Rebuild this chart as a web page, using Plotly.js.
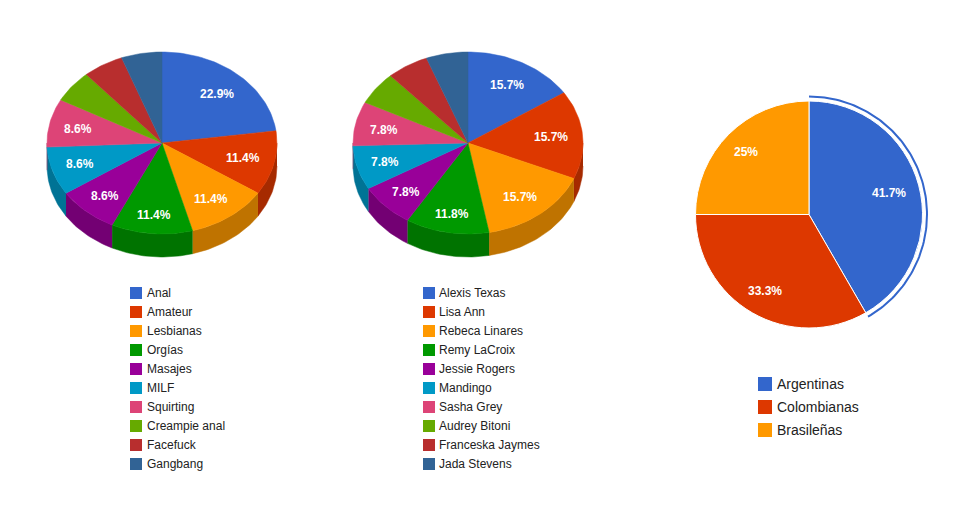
<!DOCTYPE html>
<html>
<head>
<meta charset="utf-8">
<script src="https://cdn.plot.ly/plotly-3.0.1.min.js"></script>
<style>html,body{margin:0;padding:0;background:#fff}#chart{width:980px;height:520px}</style>
</head>
<body>
<div id="chart"></div>
<script>
// Data
var categoriesA = ["Anal","Amateur","Lesbianas","Orgías","Masajes","MILF","Squirting","Creampie anal","Facefuck","Gangbang"];
var valuesA = [8,4,4,4,3,3,3,2,2,2];
var categoriesB = ["Alexis Texas","Lisa Ann","Rebeca Linares","Remy LaCroix","Jessie Rogers","Mandingo","Sasha Grey","Audrey Bitoni","Franceska Jaymes","Jada Stevens"];
var valuesB = [8,8,8,6,4,4,4,3,3,3];
var categoriesC = ["Argentinas","Colombianas","Brasileñas"];
var valuesC = [5,4,3];
var topColors = ["#3366cc","#dd3800","#ff9900","#009900","#990099","#0099c6","#dd4477","#66aa00","#b82e2e","#316395"];
var sideColors = ["#264d99","#a62a00","#bf7300","#007300","#730073","#007395","#a63359","#4d8000","#8a2323","#254a70"];

var traces = [], annotations = [];
var RAD = Math.PI / 180;

function pctText(v, total) {
  return (Math.round(v / total * 1000) / 10) + "%";
}
function pt(cx, cy, rx, ry, deg) {
  return [cx + rx * Math.sin(deg * RAD), cy - ry * Math.cos(deg * RAD)];
}
function arc(cx, cy, rx, ry, a, b) {
  var out = [], n = Math.max(2, Math.ceil(Math.abs(b - a) / 1.5));
  for (var i = 0; i <= n; i++) out.push(pt(cx, cy, rx, ry, a + (b - a) * i / n));
  return out;
}
function poly(points, color) {
  traces.push({
    type: "scatter", mode: "lines", fill: "toself", fillcolor: color,
    x: points.map(function (p) { return p[0]; }),
    y: points.map(function (p) { return p[1]; }),
    line: { color: color, width: 0.5 },
    hoverinfo: "skip", showlegend: false
  });
}
function label(x, y, text) {
  annotations.push({
    x: x, y: y, xref: "x", yref: "y", text: text, showarrow: false,
    xanchor: "center", yanchor: "middle",
    font: { family: "Liberation Sans, Arial, sans-serif", size: 12, color: "#ffffff", weight: 700 }
  });
}
function pie3d(values, cx, cy, rx, ry, depth) {
  var total = values.reduce(function (a, b) { return a + b; }, 0), start = 0, spans = [];
  values.forEach(function (v) { spans.push([start, start + v / total * 360]); start += v / total * 360; });
  // front wall, only the part of the rim between 90 and 270 degrees shows
  spans.forEach(function (s, i) {
    var a = Math.max(s[0], 90), b = Math.min(s[1], 270);
    if (b <= a) return;
    var upper = arc(cx, cy, rx, ry, a, b);
    var lower = arc(cx, cy + depth, rx, ry, b, a);
    poly(upper.concat(lower), sideColors[i]);
  });
  spans.forEach(function (s, i) {
    poly([[cx, cy]].concat(arc(cx, cy, rx, ry, s[0], s[1])).concat([[cx, cy]]), topColors[i]);
  });
  spans.forEach(function (s, i) {
    if (values[i] / total < 0.07) return;
    var mid = (s[0] + s[1]) / 2;
    var fx = Math.sin(mid * RAD) < 0 ? 0.747 : 0.725;
    var c = -Math.cos(mid * RAD);
    var p = [cx + rx * fx * Math.sin(mid * RAD),
             cy + ry * 0.72 * c + 6 * Math.pow(Math.max(0, c), 3) + (Math.sin(mid * RAD) < 0 ? 1 : 0)];
    label(p[0], p[1], pctText(values[i], total));
  });
}
function legendList(names, x, textX, y0, step, size, fontSize) {
  traces.push({
    type: "scatter", mode: "markers",
    x: names.map(function () { return x; }),
    y: names.map(function (n, i) { return y0 + i * step; }),
    marker: { symbol: "square", size: size, color: topColors.slice(0, names.length), line: { width: 0 } },
    hoverinfo: "skip", showlegend: false, cliponaxis: false
  });
  traces.push({
    type: "scatter", mode: "text",
    x: names.map(function () { return textX; }),
    y: names.map(function (n, i) { return y0 + i * step + 1; }),
    text: names, textposition: "middle right",
    textfont: { family: "Liberation Sans, Arial, sans-serif", size: fontSize, color: "#222222" },
    hoverinfo: "skip", showlegend: false, cliponaxis: false
  });
}

pie3d(valuesA, 162, 143, 115, 91, 23);
pie3d(valuesB, 468, 143, 115, 91, 23);
legendList(categoriesA, 136, 147, 293, 19, 12, 12);
legendList(categoriesB, 429, 439, 293, 19, 12, 12);
legendList(categoriesC, 765, 777, 384, 23, 14, 14);

// flat pie with its selection ring
var cx3 = 809, cy3 = 214.5, r3 = 113.5, total3 = valuesC.reduce(function (a, b) { return a + b; }, 0);
var ring = arc(cx3, cy3, 118, 118, 0, valuesC[0] / total3 * 360);
traces.push({
  type: "scatter", mode: "lines", x: ring.map(function (p) { return p[0]; }), y: ring.map(function (p) { return p[1]; }),
  line: { color: "#3366cc", width: 2 }, hoverinfo: "skip", showlegend: false
});
traces.push({
  type: "pie", labels: categoriesC, values: valuesC, sort: false, direction: "clockwise", rotation: 0,
  marker: { colors: topColors.slice(0, 3), line: { color: "#ffffff", width: 1 } },
  textinfo: "none", hoverinfo: "skip", showlegend: false,
  domain: { x: [(cx3 - r3) / 980, (cx3 + r3) / 980], y: [1 - (cy3 + r3) / 520, 1 - (cy3 - r3) / 520] }
});
var acc = 0;
valuesC.forEach(function (v) {
  var mid = (acc + v / 2) / total3 * 360;
  var f = Math.sin(mid * RAD) < 0 ? 0.78 : 0.73;
  var p = pt(cx3, cy3, r3 * f, r3 * f, mid);
  label(p[0], p[1], pctText(v, total3));
  acc += v;
});

var layout = {
  width: 980, height: 520, margin: { l: 0, r: 0, t: 0, b: 0 },
  paper_bgcolor: "#ffffff", plot_bgcolor: "#ffffff", showlegend: false,
  xaxis: { range: [0, 980], visible: false, fixedrange: true },
  yaxis: { range: [520, 0], visible: false, fixedrange: true },
  annotations: annotations
};
Plotly.newPlot("chart", traces, layout, { displayModeBar: false, staticPlot: true });
</script>
</body>
</html>
